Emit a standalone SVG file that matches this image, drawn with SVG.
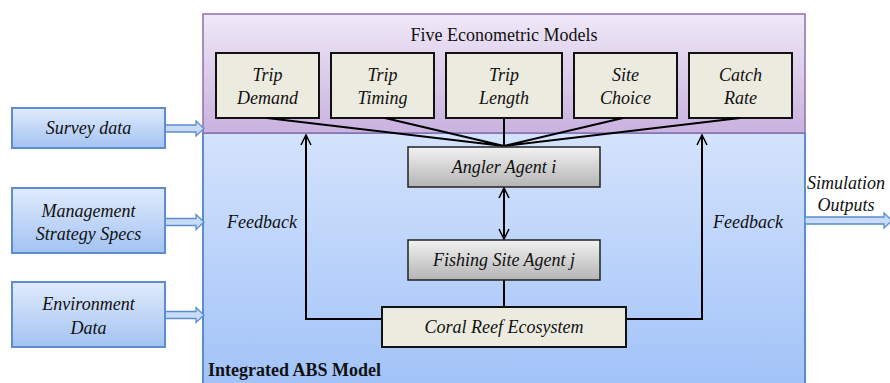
<svg xmlns="http://www.w3.org/2000/svg" width="890" height="383" viewBox="0 0 890 383" font-family="'Liberation Serif', 'Times New Roman', serif">
<defs>
<linearGradient id="gPurple" x1="0" y1="0" x2="0" y2="1"><stop offset="0" stop-color="#efe8f7"/><stop offset="1" stop-color="#c9b2df"/></linearGradient>
<linearGradient id="gBlue" x1="0" y1="0" x2="0" y2="1"><stop offset="0" stop-color="#d4e3fc"/><stop offset="1" stop-color="#a0c2f8"/></linearGradient>
<linearGradient id="gIn" x1="0" y1="0" x2="0" y2="1"><stop offset="0" stop-color="#e0ebfc"/><stop offset="1" stop-color="#a3c3f2"/></linearGradient>
<linearGradient id="gGray" x1="0" y1="0" x2="0" y2="1"><stop offset="0" stop-color="#f2f2f2"/><stop offset="1" stop-color="#b4b4b4"/></linearGradient>
<marker id="open" viewBox="0 0 12 12" refX="11" refY="6" markerWidth="12" markerHeight="12" markerUnits="userSpaceOnUse" orient="auto-start-reverse"><path d="M1,1 L11,6 L1,11" fill="none" stroke="#000" stroke-width="1.5"/></marker>
</defs>
<style>
text{font-size:18px;fill:#111;text-anchor:middle}
.it{font-style:italic}
.model{fill:#ecebe0;stroke:#111;stroke-width:2}
.agent{fill:url(#gGray);stroke:#222;stroke-width:1.5}
.in{fill:url(#gIn);stroke:#5b8dcf;stroke-width:2}
.blk{fill:#c8dbf8;stroke:#5b8dcf;stroke-width:1.3}
.ln{fill:none;stroke:#000;stroke-width:2}
</style>
<g id="abs-model">
<rect x="203" y="133" width="602" height="260" fill="url(#gBlue)" stroke="#5b8dcf" stroke-width="2"/>
<text x="208" y="376" style="font-weight:bold;text-anchor:start;font-size:18px">Integrated ABS Model</text>
</g>
<g id="econometric-models">
<rect x="203" y="14" width="602" height="119" fill="url(#gPurple)" stroke="#8e6fae" stroke-width="1.5"/>
<text x="504" y="41">Five Econometric  Models</text>
</g>
<g id="trip-demand"><rect class="model" x="216" y="53" width="103" height="65"/><text class="it" x="267.5" y="81">Trip</text><text class="it" x="267.5" y="104">Demand</text></g>
<g id="trip-timing"><rect class="model" x="331" y="53" width="103" height="65"/><text class="it" x="382.5" y="81">Trip</text><text class="it" x="382.5" y="104">Timing</text></g>
<g id="trip-length"><rect class="model" x="446" y="53" width="116" height="65"/><text class="it" x="504" y="81">Trip</text><text class="it" x="504" y="104">Length</text></g>
<g id="site-choice"><rect class="model" x="574" y="53" width="103" height="65"/><text class="it" x="625.5" y="81">Site</text><text class="it" x="625.5" y="104">Choice</text></g>
<g id="catch-rate"><rect class="model" x="689" y="53" width="103" height="65"/><text class="it" x="740.5" y="81">Catch</text><text class="it" x="740.5" y="104">Rate</text></g>
<g id="connectors">
<path class="ln" d="M267,118 L504,146 M385,118 L504,146 M504,118 L504,146 M623,118 L504,146 M740,118 L504,146"/>
<path class="ln" d="M504,188 L504,239" marker-start="url(#open)" marker-end="url(#open)"/>
<path class="ln" d="M504,280 L504,307"/>
<path class="ln" d="M382,319 L306,319 L306,135" marker-end="url(#open)"/>
<path class="ln" d="M626,319 L702,319 L702,135" marker-end="url(#open)"/>
<path class="blk" d="M165,125 L196,125 L196,121 L204,128.5 L196,136 L196,132 L165,132 Z"/>
<path class="blk" d="M165,218.5 L196,218.5 L196,214.5 L204,222 L196,229.5 L196,225.5 L165,225.5 Z"/>
<path class="blk" d="M165,311.5 L196,311.5 L196,307.5 L204,315 L196,322.5 L196,318.5 L165,318.5 Z"/>
<path class="blk" d="M805,217 L884,217 L884,213 L892,220.5 L884,228 L884,224 L805,224 Z"/>
<text class="it" x="262" y="228">Feedback</text>
<text class="it" x="748" y="228">Feedback</text>
</g>
<g id="angler-agent"><rect class="agent" x="408" y="147" width="192" height="40"/><text class="it" x="504" y="173">Angler Agent i</text></g>
<g id="fishing-site-agent"><rect class="agent" x="408" y="240" width="192" height="40"/><text class="it" x="504" y="266">Fishing Site Agent j</text></g>
<g id="coral-reef"><rect class="model" x="382" y="307" width="244" height="40"/><text class="it" x="504" y="333">Coral Reef Ecosystem</text></g>
<g id="survey-data"><rect class="in" x="12" y="108" width="153" height="40"/><text class="it" x="88.5" y="134">Survey data</text></g>
<g id="management"><rect class="in" x="12" y="188" width="153" height="65"/><text class="it" x="88.5" y="217">Management</text><text class="it" x="88.5" y="240">Strategy Specs</text></g>
<g id="environment"><rect class="in" x="12" y="282" width="153" height="65"/><text class="it" x="88.5" y="310">Environment</text><text class="it" x="88.5" y="334">Data</text></g>
<g id="outputs"><text class="it" x="846" y="189">Simulation</text><text class="it" x="846" y="211">Outputs</text></g>
</svg>
